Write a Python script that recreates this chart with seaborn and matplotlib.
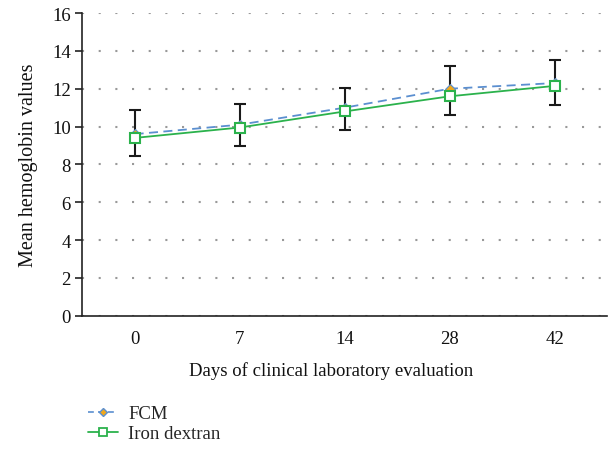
import matplotlib
matplotlib.use("Agg")
import matplotlib.pyplot as plt
import seaborn as sns
import pandas as pd
import numpy as np

days = ["0", "7", "14", "28", "42"]
fcm = [9.6, 10.1, 11.0, 12.0, 12.3]
iron = [9.4, 9.95, 10.8, 11.6, 12.15]
err_low = [8.45, 8.95, 9.8, 10.6, 11.15]
err_high = [10.85, 11.2, 12.05, 13.2, 13.5]
yticks = [0, 2, 4, 6, 8, 10, 12, 14, 16]

sns.set_theme(style="white")
plt.rcParams["font.family"] = ["Liberation Serif", "DejaVu Serif"]

fig = plt.figure(figsize=(6.08, 4.52), dpi=100)
ax = fig.add_axes([0.135, 0.299, 0.864, 0.670])

pos = np.arange(len(days))
df = pd.DataFrame({"pos": np.concatenate([pos, pos]),
                   "val": fcm + iron,
                   "group": ["FCM"] * len(days) + ["Iron dextran"] * len(days)})

blue = "#5b8fd0"
green = "#2bb24c"
orange = "#f0a81c"
fs = 13.5

# error bars
mid = [(l + h) / 2 for l, h in zip(err_low, err_high)]
yerr = [[m - l for m, l in zip(mid, err_low)], [h - m for h, m in zip(err_high, mid)]]
ax.errorbar(pos, mid, yerr=yerr, fmt="none", ecolor="#1a1a1a", elinewidth=1.5,
            capsize=4.5, capthick=1.5, zorder=2)

sns.lineplot(data=df[df.group == "FCM"], x="pos", y="val", ax=ax, color=blue,
             linestyle=(0, (5, 3)), linewidth=1.3, marker="D", markersize=5,
             markerfacecolor=orange, markeredgecolor=blue, markeredgewidth=0.8,
             legend=False, zorder=3)
sns.lineplot(data=df[df.group == "Iron dextran"], x="pos", y="val", ax=ax, color=green,
             linestyle="-", linewidth=1.3, marker="s", markersize=7.5,
             markerfacecolor="white", markeredgecolor=green, markeredgewidth=1.5,
             legend=False, zorder=4)

ax.set_xlim(-0.5, len(days) - 0.5)
ax.set_ylim(0, 16)
ax.set_xticks(pos)
ax.set_xticklabels(days)
ax.set_yticks(yticks)
ax.tick_params(axis="y", which="both", left=True, length=5, width=1.2, color="#222222",
               labelsize=fs, pad=3)
ax.tick_params(axis="x", bottom=False, labelsize=fs, pad=4)
for lab in ax.get_xticklabels() + ax.get_yticklabels():
    lab.set_color("#111111")

ax.yaxis.grid(True, linestyle=(0, (1, 7)), color="#999999", linewidth=1.5)
ax.xaxis.grid(False)
ax.set_axisbelow(True)
for s in ["top", "right"]:
    ax.spines[s].set_visible(False)
for s in ["left", "bottom"]:
    ax.spines[s].set_color("#222222")
    ax.spines[s].set_linewidth(1.2)

ax.set_xlabel("Days of clinical laboratory evaluation", fontsize=fs, color="#111111")
ax.xaxis.set_label_coords(0.475, -0.148)
ax.set_ylabel("Mean hemoglobin values", fontsize=14.5, color="#111111", labelpad=10)

h1, = ax.plot([], [], color=blue, linestyle=(0, (3.5, 2.5)), linewidth=1.2, marker="D",
              markersize=4.5, markerfacecolor=orange, markeredgecolor=blue)
h2, = ax.plot([], [], color=green, linewidth=1.3, marker="s", markersize=6,
              markerfacecolor="white", markeredgecolor=green, markeredgewidth=1.3)
fig.legend([h1, h2], ["FCM", "Iron dextran"], loc="upper left",
           bbox_to_anchor=(0.132, 0.118), frameon=False, fontsize=fs,
           handlelength=1.6, handletextpad=0.55, labelspacing=0.15, borderaxespad=0)

fig.savefig("out.png", dpi=100)
